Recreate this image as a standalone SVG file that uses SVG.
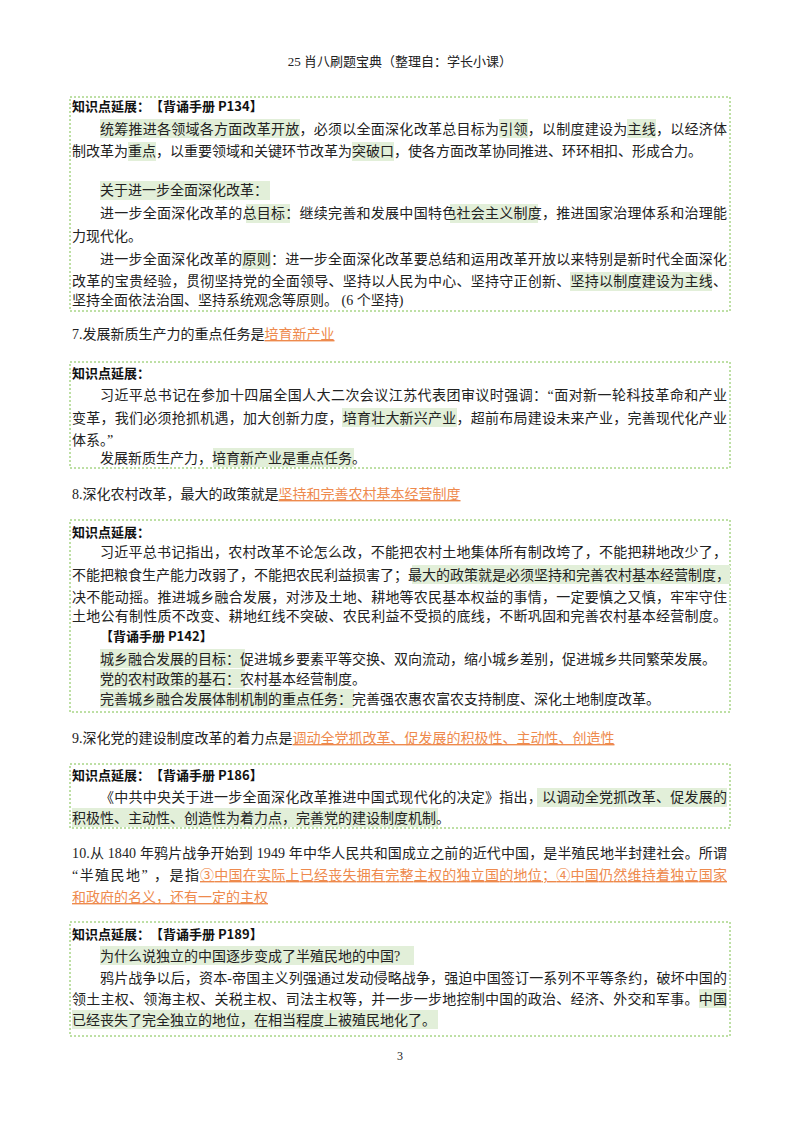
<svg xmlns="http://www.w3.org/2000/svg" width="800" height="1132" viewBox="0 0 800 1132">
<style>
text{font-family:"Liberation Serif","Noto Sans CJK SC",serif;font-size:14px;fill:#222}
.h{font-family:"Noto Sans CJK SC",sans-serif;font-weight:bold;font-size:13px;fill:#111}
.o{fill:#ee8a4d;text-decoration:underline}
.hl{fill:#e2efd9}
.box{fill:none;stroke:#7cc04a;stroke-width:1;stroke-dasharray:2 2}
</style>
<rect width="800" height="1132" fill="#fff"/>
<text x="400" y="66" text-anchor="middle" style="font-size:13px">25 肖八刷题宝典（整理自：学长小课）</text>

<g id="box1">
<rect class="box" x="70" y="97" width="660" height="214"/>
<rect class="hl" x="100" y="119" width="200" height="19"/>
<rect class="hl" x="499" y="119" width="29" height="19"/>
<rect class="hl" x="627" y="119" width="29" height="19"/>
<rect class="hl" x="128" y="142" width="28" height="19"/>
<rect class="hl" x="352" y="142" width="42" height="19"/>
<rect class="hl" x="100" y="181" width="170" height="19"/>
<rect class="hl" x="246" y="204" width="44" height="19"/>
<rect class="hl" x="450" y="204" width="88" height="19"/>
<rect class="hl" x="242" y="250" width="29" height="19"/>
<rect class="hl" x="570" y="272" width="142" height="19"/>
<text class="h" x="72" y="111">知识点延展：<tspan x="150">【背诵手册 P134】</tspan></text>
<text x="100" y="134" textLength="627">统筹推进各领域各方面改革开放，必须以全面深化改革总目标为引领，以制度建设为主线，以经济体</text>
<text x="72" y="156">制改革为重点，以重要领域和关键环节改革为突破口，使各方面改革协同推进、环环相扣、形成合力。</text>
<text x="100" y="195">关于进一步全面深化改革：</text>
<text x="100" y="218" textLength="627">进一步全面深化改革的总目标：继续完善和发展中国特色社会主义制度，推进国家治理体系和治理能</text>
<text x="72" y="241">力现代化。</text>
<text x="100" y="264" textLength="627">进一步全面深化改革的原则：进一步全面深化改革要总结和运用改革开放以来特别是新时代全面深化</text>
<text x="72" y="286" textLength="655">改革的宝贵经验，贯彻坚持党的全面领导、坚持以人民为中心、坚持守正创新、坚持以制度建设为主线、</text>
<text x="72" y="305">坚持全面依法治国、坚持系统观念等原则。 (6 个坚持)</text>
</g>

<g id="item7"><text x="72" y="339">7.发展新质生产力的重点任务是<tspan class="o">培育新产业</tspan></text></g>

<g id="box2">
<rect class="box" x="70" y="362" width="660" height="106"/>
<rect class="hl" x="342" y="408" width="115" height="19"/>
<rect class="hl" x="213" y="448" width="141" height="19"/>
<text class="h" x="72" y="378">知识点延展：</text>
<text x="100" y="400" textLength="627">习近平总书记在参加十四届全国人大二次会议江苏代表团审议时强调：“面对新一轮科技革命和产业</text>
<text x="72" y="423" textLength="655">变革，我们必须抢抓机遇，加大创新力度，培育壮大新兴产业，超前布局建设未来产业，完善现代化产业</text>
<text x="72" y="445">体系。”</text>
<text x="100" y="463">发展新质生产力，培育新产业是重点任务。</text>
</g>

<g id="item8"><text x="72" y="499">8.深化农村改革，最大的政策就是<tspan class="o">坚持和完善农村基本经营制度</tspan></text></g>

<g id="box3">
<rect class="box" x="70" y="520" width="660" height="192"/>
<rect class="hl" x="412" y="565" width="318" height="19"/>
<rect class="hl" x="100" y="649" width="145" height="19"/>
<rect class="hl" x="100" y="669" width="145" height="19"/>
<rect class="hl" x="100" y="689" width="254" height="19"/>
<text class="h" x="72" y="537">知识点延展：</text>
<text x="100" y="557" textLength="627">习近平总书记指出，农村改革不论怎么改，不能把农村土地集体所有制改垮了，不能把耕地改少了，</text>
<text x="72" y="580" textLength="658">不能把粮食生产能力改弱了，不能把农民利益损害了；最大的政策就是必须坚持和完善农村基本经营制度，</text>
<text x="72" y="602" textLength="655">决不能动摇。推进城乡融合发展，对涉及土地、耕地等农民基本权益的事情，一定要慎之又慎，牢牢守住</text>
<text x="72" y="621" textLength="655">土地公有制性质不改变、耕地红线不突破、农民利益不受损的底线，不断巩固和完善农村基本经营制度。</text>
<text class="h" x="100" y="641">【背诵手册 P142】</text>
<text x="100" y="664">城乡融合发展的目标：促进城乡要素平等交换、双向流动，缩小城乡差别，促进城乡共同繁荣发展。</text>
<text x="100" y="684">党的农村政策的基石：农村基本经营制度。</text>
<text x="100" y="704">完善城乡融合发展体制机制的重点任务：完善强农惠农富农支持制度、深化土地制度改革。</text>
</g>

<g id="item9"><text x="72" y="743">9.深化党的建设制度改革的着力点是<tspan class="o">调动全党抓改革、促发展的积极性、主动性、创造性</tspan></text></g>

<g id="box4">
<rect class="box" x="70" y="764" width="660" height="64"/>
<rect class="hl" x="537" y="788" width="190" height="19"/>
<rect class="hl" x="72" y="808" width="366" height="19"/>
<text class="h" x="72" y="780">知识点延展：<tspan x="150">【背诵手册 P186】</tspan></text>
<text x="100" y="802" textLength="627">《中共中央关于进一步全面深化改革推进中国式现代化的决定》指出，以调动全党抓改革、促发展的</text>
<text x="72" y="823">积极性、主动性、创造性为着力点，完善党的建设制度机制。</text>
</g>

<g id="item10">
<text x="72" y="858" textLength="655">10.从 1840 年鸦片战争开始到 1949 年中华人民共和国成立之前的近代中国，是半殖民地半封建社会。所谓</text>
<text x="72" y="880" textLength="127">“半殖民地” ，是指</text>
<text x="200" y="880" class="o" textLength="527">③中国在实际上已经丧失拥有完整主权的独立国的地位；④中国仍然维持着独立国家</text>
<text x="72" y="902" class="o">和政府的名义，还有一定的主权</text>
</g>

<g id="box5">
<rect class="box" x="70" y="922" width="660" height="114"/>
<rect class="hl" x="100" y="946" width="314" height="19"/>
<rect class="hl" x="699" y="989" width="28" height="19"/>
<rect class="hl" x="72" y="1010" width="366" height="19"/>
<text class="h" x="72" y="939">知识点延展：<tspan x="150">【背诵手册 P189】</tspan></text>
<text x="100" y="961">为什么说独立的中国逐步变成了半殖民地的中国?</text>
<text x="100" y="983" textLength="627">鸦片战争以后，资本-帝国主义列强通过发动侵略战争，强迫中国签订一系列不平等条约，破坏中国的</text>
<text x="72" y="1004" textLength="655">领土主权、领海主权、关税主权、司法主权等，并一步一步地控制中国的政治、经济、外交和军事。中国</text>
<text x="72" y="1025">已经丧失了完全独立的地位，在相当程度上被殖民地化了。</text>
</g>
<text x="400" y="1060" text-anchor="middle" style="font-size:12px">3</text>
</svg>
